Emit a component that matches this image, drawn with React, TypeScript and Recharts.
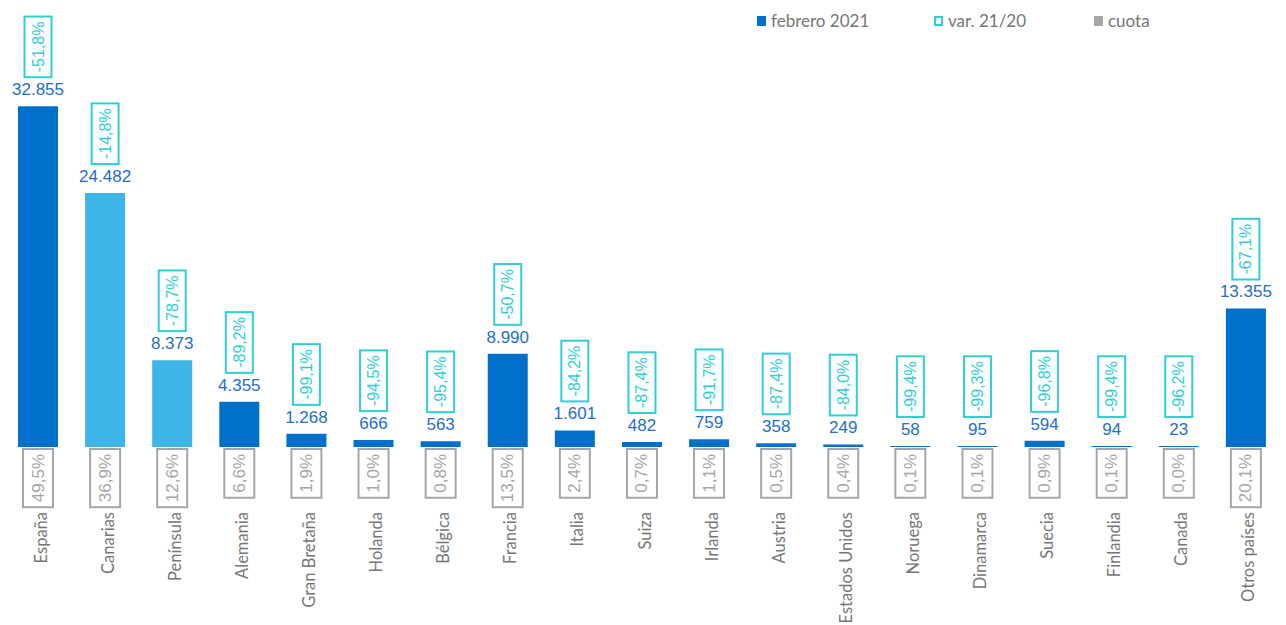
import { BarChart, Bar, XAxis, YAxis, Cell, LabelList } from 'recharts'

const categories = [
  'España', 'Canarias', 'Península', 'Alemania', 'Gran Bretaña', 'Holanda', 'Bélgica', 'Francia',
  'Italia', 'Suiza', 'Irlanda', 'Austria', 'Estados Unidos', 'Noruega', 'Dinamarca', 'Suecia',
  'Finlandia', 'Canada', 'Otros países',
]
const febrero2021 = [32855, 24482, 8373, 4355, 1268, 666, 563, 8990, 1601, 482, 759, 358, 249, 58, 95, 594, 94, 23, 13355]
const variacion = [
  '-51,8%', '-14,8%', '-78,7%', '-89,2%', '-99,1%', '-94,5%', '-95,4%', '-50,7%', '-84,2%', '-87,4%',
  '-91,7%', '-87,4%', '-84,0%', '-99,4%', '-99,3%', '-96,8%', '-99,4%', '-96,2%', '-67,1%',
]
const cuota = [
  '49,5%', '36,9%', '12,6%', '6,6%', '1,9%', '1,0%', '0,8%', '13,5%', '2,4%', '0,7%',
  '1,1%', '0,5%', '0,4%', '0,1%', '0,1%', '0,9%', '0,1%', '0,0%', '20,1%',
]
const lightCategories = ['Canarias', 'Península']

const DARK = '#0070CC'
const LIGHT = '#3DB5E6'
const VALUE_COLOR = '#1F6FCB'
const VAR_COLOR = '#2FCFD6'
const CUOTA_COLOR = '#A6A6A6'
const TEXT_GREY = '#767676'
const NUM_FONT = '"Liberation Sans", Arial, sans-serif'
const CAT_FONT = 'Lato, "Noto Sans", sans-serif'

const chartData = categories.map((name, i) => ({ name, value: febrero2021[i] }))

let ctx: CanvasRenderingContext2D | null = null
function textWidth(text: string, size: number) {
  if (!ctx) ctx = document.createElement('canvas').getContext('2d')
  if (!ctx) return text.length * size * 0.55
  ctx.font = `${size}px "Liberation Sans", Arial`
  return ctx.measureText(text).width
}

function RotatedBox({ cx, cy, text, size, color, thickness }: any) {
  const len = textWidth(text, size) + 10
  return (
    <g transform={`translate(${cx},${cy}) rotate(-90)`}>
      <rect x={-len / 2} y={-thickness / 2} width={len} height={thickness} fill="#fff" stroke={color} strokeWidth={2} />
      <text x={0} y={0} textAnchor="middle" dominantBaseline="central" fontSize={size} fontFamily={NUM_FONT} fill={color}>
        {text}
      </text>
    </g>
  )
}

function BarLabels(props: any) {
  const { x, y, width, height, index, value } = props
  const cx = x + width / 2
  const top = y
  const base = y + height
  const varText = variacion[index]
  const varLen = textWidth(varText, 16) + 10
  const cuotaText = cuota[index]
  const cuotaLen = textWidth(cuotaText, 17) + 10
  return (
    <g>
      <text x={cx} y={top - 11} textAnchor="middle" fontSize={17} fontFamily={NUM_FONT} fill={VALUE_COLOR}>
        {value.toLocaleString('de-DE')}
      </text>
      <RotatedBox cx={cx} cy={top - 29 - varLen / 2} text={varText} size={16} color={VAR_COLOR} thickness={27} />
      <RotatedBox cx={cx} cy={base + 2 + cuotaLen / 2} text={cuotaText} size={17} color={CUOTA_COLOR} thickness={30} />
    </g>
  )
}

function CategoryTick(props: any) {
  const { x, y, payload } = props
  return (
    <text
      transform={`translate(${x + 9},${y + 57}) rotate(-90)`}
      textAnchor="end"
      fontSize={16.5}
      fontFamily={CAT_FONT}
      fill={TEXT_GREY}
    >
      {payload.value}
    </text>
  )
}

const legendItems = [
  { label: 'febrero 2021', left: 757, swatch: { background: DARK } },
  { label: 'var. 21/20', left: 934, swatch: { border: `2px solid ${VAR_COLOR}`, boxSizing: 'border-box' as const } },
  { label: 'cuota', left: 1094, swatch: { background: CUOTA_COLOR } },
]

export default function App() {
  return (
    <div style={{ position: 'absolute', left: 0, top: 0, width: 1286, height: 625, background: '#fff' }}>
      <BarChart width={1286} height={625} data={chartData} margin={{ top: 84, right: 7, left: 4, bottom: 0 }}>
        <XAxis dataKey="name" height={178} axisLine={false} tickLine={false} interval={0} tick={<CategoryTick />} />
        <YAxis hide width={0} domain={[0, 35000]} />
        <Bar dataKey="value" barSize={40} minPointSize={1} isAnimationActive={false}>
          {chartData.map((entry) => (
            <Cell key={entry.name} fill={lightCategories.includes(entry.name) ? LIGHT : DARK} />
          ))}
          <LabelList dataKey="value" content={<BarLabels />} />
        </Bar>
      </BarChart>
      {legendItems.map((item) => (
        <div
          key={item.label}
          style={{
            position: 'absolute',
            left: item.left,
            top: 10,
            display: 'flex',
            alignItems: 'center',
            fontFamily: CAT_FONT,
            fontSize: 17,
            color: TEXT_GREY,
          }}
        >
          <span style={{ display: 'inline-block', width: 9, height: 10, marginRight: 5, ...item.swatch }} />
          {item.label}
        </div>
      ))}
    </div>
  )
}
